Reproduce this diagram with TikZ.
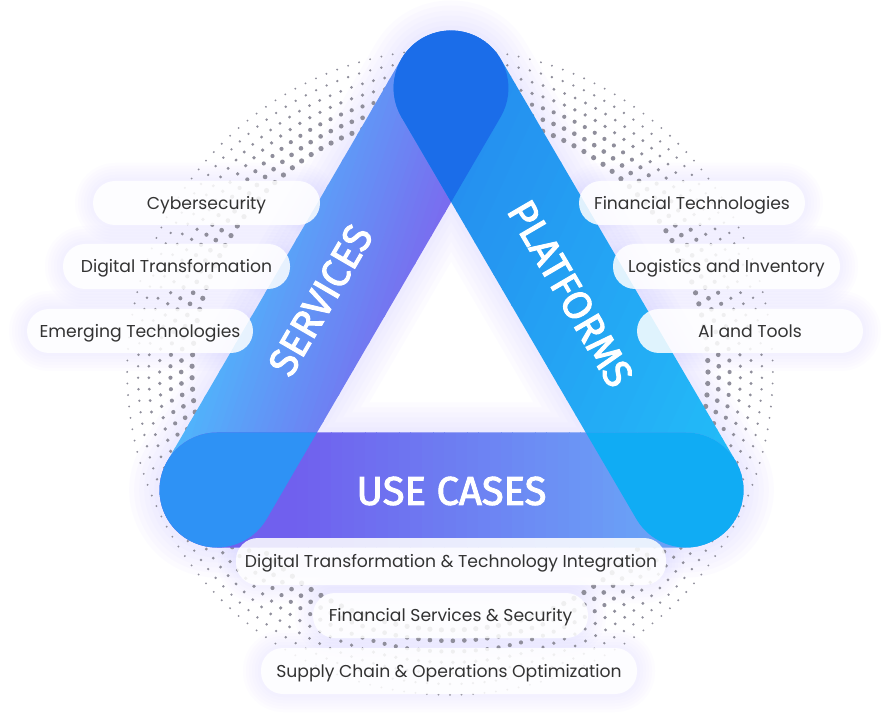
\documentclass[tikz,border=0pt]{standalone}
\usepackage{fontspec}
\setmainfont{Poppins}
\newfontfamily\titlefont[FakeBold=2.5]{Fira Sans}
\definecolor{txt}{HTML}{333333}
\definecolor{dotc}{HTML}{8F8E9B}
\definecolor{glowc}{HTML}{B7A4FF}
\definecolor{lblue}{HTML}{4DB8FC}
\definecolor{lpurp}{HTML}{7A6CEF}
\definecolor{rbot}{HTML}{22BDF8}
\definecolor{rtop}{HTML}{2686EE}
\definecolor{bpurp}{HTML}{7060EE}
\definecolor{bblue}{HTML}{6AA0F6}
\definecolor{ovtop}{HTML}{1B6DE9}
\definecolor{ovleft}{HTML}{2E92F5}
\definecolor{ovright}{HTML}{10ACF4}
\tikzset{
  leftcap/.style={shift={(217,236)},rotate=59.8,rounded corners=57.5pt},
  rightcap/.style={shift={(686,236)},rotate=120.3,rounded corners=57.5pt},
  botcap/.style={shift={(217,236)},rounded corners=57.5pt},
  pill/.style={rectangle, rounded corners=22pt, fill=white, fill opacity=0.86, text opacity=1,
    text=txt, font=\fontsize{17.2}{20}\selectfont, inner sep=0pt, text height=12.2pt, text depth=0pt},
  bigtitle/.style={text=white, font=\titlefont\fontsize{40}{44}\selectfont, inner sep=0pt},
}
% #1 origin, #2 rotation, #3 length, #4 grad angle, #5 from, #6 to, #7 colour start, #8 colour end
\newcommand\gradcapsule[8]{%
\begin{scope}[shift={#1},rotate=#2]
 \clip[rounded corners=57.5pt] (-57.5,-57.5) rectangle ({#3+57.5},57.5);
 \begin{scope}[rotate=#4]
  \fill[#7] (-800,-800) rectangle ({#5+0.5}, 800);
  \fill[#8] ({#6-0.5},-800) rectangle (800,800);
  \foreach \s in {0,...,29} {
   \pgfmathsetmacro\pp{100*(\s+0.5)/30}
   \fill[#8!\pp!#7] ({#5+(#6-#5)*\s/30}, -800) rectangle ({#5+(#6-#5)*(\s+1)/30+0.6}, 800);
  }
 \end{scope}
\end{scope}}
\begin{document}
\begin{tikzpicture}[x=1pt,y=1pt]
\useasboundingbox (0,0) rectangle (888,726);
\fill[white] (0,0) rectangle (888,726);
\coordinate (L) at (217,236);
\coordinate (R) at (686,236);
\coordinate (T) at (451,638);
% triangle glow
\foreach \w in {125,135,145,155,165,175}
  \draw[glowc, opacity=0.035, line width=\w pt, line cap=round, line join=round] (L)--(T)--(R)--cycle;
% pill glows
\foreach \x/\y/\w/\h in {206.5/523/227/44, 176.5/459.5/227/45, 140/395/226/44,
    692/523/226/44, 726.5/459.5/227/45, 750/395/226/44,
    451/164.5/430/47, 450.5/110.5/275/45, 449/55/376/46} {
  \foreach \e in {3,6,...,18} {
    \pgfmathsetmacro\rc{22+\e}
    \fill[glowc, opacity=0.025, rounded corners=\rc pt] ({\x-\w/2-\e},{\y-\h/2-\e}) rectangle ({\x+\w/2+\e},{\y+\h/2+\e});
  }
}
% halftone dot ring
\begin{scope}[shift={(450,354)}]
\foreach \i in {0,...,6} {
  \pgfmathsetmacro\rr{258+10.8*\i}
  \pgfmathsetmacro\dr{2.6-0.26*\i}
  \pgfmathtruncatemacro\nn{round(2*pi*\rr/11.5)}
  \pgfmathsetmacro\stp{360/\nn}
  \pgfmathsetmacro\off{mod(\i,2)*\stp/2}
  \foreach \k in {1,...,\nn} {
    \pgfmathsetmacro\ang{\off+\stp*\k}
    \fill[dotc] (\ang:\rr) circle (\dr);
  }
}
\end{scope}
% capsules
\gradcapsule{(217,236)}{59.8}{465.1}{-78}{-60}{130}{lblue}{lpurp}
\gradcapsule{(686,236)}{120.3}{465.65}{35}{-33}{414}{rbot}{rtop}
\gradcapsule{(217,236)}{0}{469}{0}{80}{420}{bpurp}{bblue}
% overlaps
\begin{scope}
 \clip[leftcap] (-57.5,-57.5) rectangle (522.6,57.5);
 \fill[ovtop, rightcap] (-57.5,-57.5) rectangle (523.15,57.5);
\end{scope}
\begin{scope}
 \clip[leftcap] (-57.5,-57.5) rectangle (522.6,57.5);
 \fill[ovleft, botcap] (-57.5,-57.5) rectangle (526.5,57.5);
\end{scope}
\begin{scope}
 \clip[rightcap] (-57.5,-57.5) rectangle (523.15,57.5);
 \fill[ovright, botcap] (-57.5,-57.5) rectangle (526.5,57.5);
\end{scope}
% titles
\node[bigtitle, rotate=59.8] (services) at (320.5,426) {SERVICES};
\node[bigtitle, rotate=-59.7] (platforms) at (570.5,432.5) {PLATFORMS};
\node[bigtitle] (usecases) at (451.5,235) {USE CASES};
% pills
\node[pill, minimum width=227pt, minimum height=44pt] (p1) at (206.5,523) {Cybersecurity};
\node[pill, minimum width=227pt, minimum height=45pt] (p2) at (176.5,459.5) {Digital Transformation};
\node[pill, minimum width=226pt, minimum height=44pt] (p3) at (140,395) {Emerging Technologies};
\node[pill, minimum width=226pt, minimum height=44pt] (p4) at (692,523) {Financial Technologies};
\node[pill, minimum width=227pt, minimum height=45pt] (p5) at (726.5,459.5) {Logistics and Inventory};
\node[pill, minimum width=226pt, minimum height=44pt] (p6) at (750,395) {AI and Tools};
\node[pill, minimum width=430pt, minimum height=47pt] (p7) at (451,164.5) {Digital Transformation \& Technology Integration};
\node[pill, minimum width=275pt, minimum height=45pt] (p8) at (450.5,110.5) {Financial Services \& Security};
\node[pill, minimum width=376pt, minimum height=46pt] (p9) at (449,55) {Supply Chain \& Operations Optimization};
\end{tikzpicture}
\end{document}
